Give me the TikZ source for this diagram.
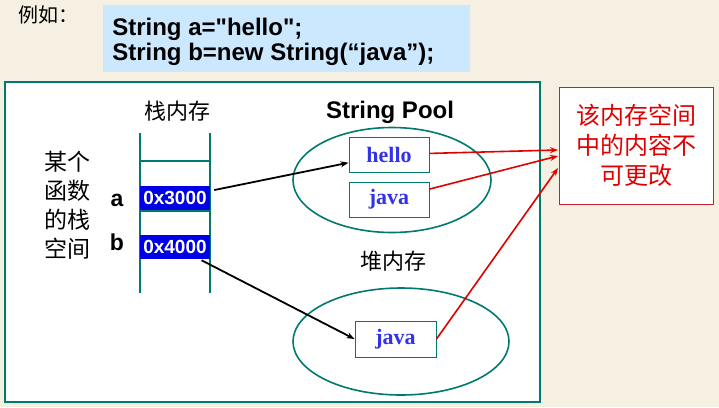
\documentclass[tikz,border=0pt]{standalone}
\usepackage{fontspec}
\setmainfont{Liberation Serif}
\setsansfont{Liberation Sans}
\newfontfamily\cjk{Noto Sans CJK SC}
\newfontfamily\codefont{Liberation Sans}
\usepackage{xcolor}
\usepackage{tikz}
\usetikzlibrary{positioning}
\usetikzlibrary{shapes.geometric}
\usetikzlibrary{arrows.meta}
\definecolor{paper}{RGB}{246,240,226}
\definecolor{codebg}{RGB}{204,232,255}
\definecolor{tealline}{RGB}{0,122,110}
\definecolor{addrblue}{RGB}{0,0,230}
\definecolor{strblue}{RGB}{50,50,235}
\definecolor{notered}{RGB}{225,0,0}
\definecolor{noteframe}{RGB}{200,30,50}

\begin{document}
\begin{tikzpicture}[x=1pt, y=-1pt, >={Stealth[length=8pt,width=6pt]}, semithick]
	\tikzstyle{strbox}=[draw=tealline, fill=white, line width=1pt, minimum width=80pt, minimum height=35pt, inner sep=0pt, text=strblue, font=\fontsize{22}{22}\selectfont\bfseries\rmfamily]
	\tikzstyle{addr}=[fill=addrblue, text=white, minimum width=70pt, minimum height=24pt, inner sep=0pt, font=\fontsize{19}{19}\selectfont\bfseries\sffamily]
	\tikzstyle{area}=[ellipse, draw=tealline, line width=1.6pt]
	\tikzstyle{zh}=[font=\fontsize{22}{22}\selectfont\cjk]
	\tikzstyle{ptr}=[->, line width=1.8pt, black]
	\tikzstyle{fixed}=[->, line width=1.6pt, notered]
	\useasboundingbox[fill=paper] (0,0) rectangle (719,407);
	% code
	\node[font=\fontsize{20}{20}\selectfont\cjk] (eg) at (48,15) {例如：};
	\fill[codebg] (103,5) rectangle (470,72);
	\node[anchor=base west, inner sep=0pt, font=\fontsize{24}{24}\selectfont\codefont\bfseries] (codeA) at (112,35) {String a="hello";};
	\node[anchor=base west, inner sep=0pt, font=\fontsize{24}{24}\selectfont\codefont\bfseries] (codeB) at (112,60) {String b=new String(“java”);};
	% main frame
	\draw[tealline, line width=1.2pt, fill=white] (5,82) rectangle (540,402);
	% stack
	\node[zh] (stackTitle) at (177,111) {栈内存};
	\draw[tealline, line width=1.5pt] (140,133) -- (140,293) (210,133) -- (210,293);
	\draw[tealline, line width=1.5pt] (140,161) -- (210,161) (140,211) -- (210,211);
	\node[addr] (addrA) at (175,198) {0x3000};
	\node[addr, below=24pt of addrA] (addrB) {0x4000};
	\node[font=\fontsize{23}{23}\selectfont\bfseries\sffamily] (varA) at (117,200) {a};
	\node[font=\fontsize{23}{23}\selectfont\bfseries\sffamily] (varB) at (117,242) {b};
	\node[align=center, font=\fontsize{23}{29}\selectfont\cjk] (frame) at (67,205) {某个\\函数\\的栈\\空间};
	% string pool
	\node[font=\fontsize{24}{24}\selectfont\bfseries\sffamily] (poolTitle) at (390,112) {String Pool};
	\node[area, minimum width=198pt, minimum height=105pt] (pool) at (392,180) {};
	\node[strbox] (hello) at (389,154.5) {hello};
	\node[strbox, below=9pt of hello] (javaP) {java};
	% heap
	\node[zh] (heapTitle) at (393,261) {堆内存};
	\node[area, minimum width=216pt, minimum height=107pt] (heap) at (401,341.5) {};
	\node[strbox, minimum width=81pt, minimum height=36pt] (javaH) at (395.5,339) {java};
	% note
	\node[draw=noteframe, fill=white, line width=1pt, minimum width=154pt, minimum height=117pt, align=center, text=notered, font=\fontsize{24}{30}\selectfont\cjk] (note) at (636,145.5) {该内存空间\\中的内容不\\可更改};
	\coordinate (inA) at (558,150);
	\coordinate (inB) at (558,156);
	\coordinate (inC) at (558,168);
	\path
	(addrA) edge[ptr, shorten <=4pt]	(hello)
	(addrB) edge[ptr, shorten <=3pt]	(javaH.west)
	(hello) edge[fixed]	(inA)
	(javaP) edge[fixed]	(inB)
	(javaH.east) edge[fixed]	(inC);
\end{tikzpicture}
\end{document}
